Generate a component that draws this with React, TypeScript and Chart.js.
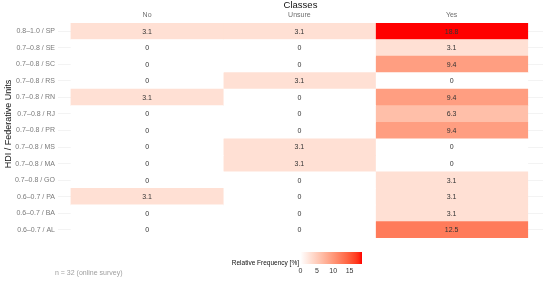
import React, { useEffect, useRef } from "react";
import { Chart, registerables } from "chart.js";

Chart.register(...registerables);

const rows = [
  "0.8–1.0 / SP", "0.7–0.8 / SE", "0.7–0.8 / SC", "0.7–0.8 / RS", "0.7–0.8 / RN",
  "0.7–0.8 / RJ", "0.7–0.8 / PR", "0.7–0.8 / MS", "0.7–0.8 / MA", "0.7–0.8 / GO",
  "0.6–0.7 / PA", "0.6–0.7 / BA", "0.6–0.7 / AL",
];
const classes = ["No", "Unsure", "Yes"];
const noValues = [3.1, 0, 0, 0, 3.1, 0, 0, 0, 0, 0, 3.1, 0, 0];
const unsureValues = [3.1, 0, 0, 3.1, 0, 0, 0, 3.1, 3.1, 0, 0, 0, 0];
const yesValues = [18.8, 3.1, 9.4, 0, 9.4, 6.3, 9.4, 0, 0, 3.1, 3.1, 3.1, 12.5];
const legendTicks = [0, 5, 10, 15];
const legendMax = 18.8;

const FONT = "'Liberation Sans', Arial, sans-serif";

// Lab interpolation white -> red (like ggplot scale_fill_gradient)
function labToRgb(L: number, a: number, b: number): [number, number, number] {
  let y = (L + 16) / 116;
  let x = a / 500 + y;
  let z = y - b / 200;
  const f = (t: number) => (t ** 3 > 0.008856 ? t ** 3 : (t - 16 / 116) / 7.787);
  x = 0.95047 * f(x);
  y = 1.0 * f(y);
  z = 1.08883 * f(z);
  const r = x * 3.2406 + y * -1.5372 + z * -0.4986;
  const g = x * -0.9689 + y * 1.8758 + z * 0.0415;
  const bb = x * 0.0557 + y * -0.204 + z * 1.057;
  const gam = (c: number) => (c > 0.0031308 ? 1.055 * Math.pow(c, 1 / 2.4) - 0.055 : 12.92 * c);
  const cl = (c: number) => Math.max(0, Math.min(255, Math.round(gam(c) * 255)));
  return [cl(r), cl(g), cl(bb)];
}
function fillFor(v: number): string {
  const t = Math.max(0, Math.min(1, v / legendMax));
  const L = 100 + (53.24 - 100) * t;
  const a = 80.09 * t;
  const b = 67.2 * t;
  const [r, g, bb] = labToRgb(L, a, b);
  return `rgb(${r},${g},${bb})`;
}

const series = [noValues, unsureValues, yesValues];

const labelPlugin = {
  id: "cellLabels",
  afterDatasetsDraw(chart: any) {
    const ctx = chart.ctx;
    ctx.save();
    ctx.font = `7px ${FONT}`;
    ctx.fillStyle = "#333333";
    ctx.textAlign = "center";
    ctx.textBaseline = "middle";
    chart.data.datasets.forEach((ds: any, di: number) => {
      const meta = chart.getDatasetMeta(di);
      meta.data.forEach((el: any, i: number) => {
        const v = series[di][i];
        const cx = (el.x + el.base) / 2;
        ctx.fillText(v === 0 ? "0" : v.toFixed(1), cx, el.y + 0.5);
      });
    });
    ctx.restore();
  },
  afterDraw(chart: any) {
    const ctx = chart.ctx;
    ctx.save();
    // y-axis title
    ctx.save();
    ctx.translate(8.5, 124);
    ctx.rotate(-Math.PI / 2);
    ctx.font = `9px ${FONT}`;
    ctx.fillStyle = "#111";
    ctx.textAlign = "center";
    ctx.textBaseline = "middle";
    ctx.fillText("HDI / Federative Units", 0, 0);
    ctx.restore();
    // legend gradient
    const x0 = 300.5, x1 = 362, y0 = 252, y1 = 264;
    const grad = ctx.createLinearGradient(x0, 0, x1, 0);
    for (let k = 0; k <= 20; k++) {
      grad.addColorStop(k / 20, fillFor((k / 20) * legendMax));
    }
    ctx.fillStyle = grad;
    ctx.fillRect(x0, y0, x1 - x0, y1 - y0);
    ctx.fillStyle = "#111";
    ctx.font = `6.5px ${FONT}`;
    ctx.textAlign = "right";
    ctx.textBaseline = "middle";
    ctx.fillText("Relative Frequency [%]", 299, 263);
    ctx.font = `7px ${FONT}`;
    ctx.textAlign = "center";
    ctx.fillStyle = "#333";
    legendTicks.forEach((t) => {
      const x = x0 + ((x1 - x0) * t) / legendMax;
      ctx.fillText(String(t), x, 271);
    });
    ctx.textAlign = "left";
    ctx.fillStyle = "#a0a0a0";
    ctx.fillText("n = 32 (online survey)", 55, 273);
    ctx.restore();
  },
};

export default function App() {
  const ref = useRef<HTMLCanvasElement | null>(null);
  useEffect(() => {
    document.body.style.margin = "0";
    const canvas = ref.current!;
    const chart = new Chart(canvas, {
      type: "bar",
      data: {
        labels: rows,
        datasets: classes.map((c, ci) => ({
          label: c,
          data: rows.map(() => [ci, ci + 1]) as any,
          backgroundColor: series[ci].map((v) => fillFor(v)),
          borderWidth: 0,
          barPercentage: 1,
          categoryPercentage: 1,
          grouped: false,
        })),
      },
      options: {
        indexAxis: "y",
        animation: false,
        responsive: false,
        maintainAspectRatio: false,
        layout: { padding: { top: 0, left: 0, right: 7, bottom: 44 } },
        plugins: { legend: { display: false }, tooltip: { enabled: false } },
        scales: {
          x: {
            type: "linear",
            position: "top",
            min: -0.085,
            max: 3.1,
            grid: { display: false, drawTicks: false },
            border: { display: false },
            afterBuildTicks: (s: any) => {
              s.ticks = [{ value: 0.5 }, { value: 1.5 }, { value: 2.5 }];
            },
            afterFit: (s: any) => {
              s.height = 23;
            },
            ticks: {
              padding: 4,
              autoSkip: false,
              maxRotation: 0,
              color: "#6e6e6e",
              font: { family: FONT, size: 7 },
              callback: (v: any) => classes[Math.floor(Number(v))] ?? "",
            },
            title: {
              display: true,
              text: "Classes",
              color: "#111",
              font: { family: FONT, size: 9.5 },
              padding: { top: 0, bottom: 0 },
            },
          },
          y: {
            type: "category",
            offset: true,
            grid: { display: true, offset: false, color: "#ebebeb", lineWidth: 0.6, drawTicks: false },
            border: { display: false },
            afterFit: (s: any) => {
              s.width = 58;
            },
            ticks: {
              padding: 3,
              autoSkip: false,
              color: "#7a7a7a",
              font: { family: FONT, size: 7 },
            },
            title: { display: false },
          },
        },
      },
      plugins: [labelPlugin],
    });
    return () => chart.destroy();
  }, []);
  return (
    <div style={{ width: 550, height: 282 }}>
      <canvas ref={ref} width={550} height={282} style={{ display: "block" }} />
    </div>
  );
}
